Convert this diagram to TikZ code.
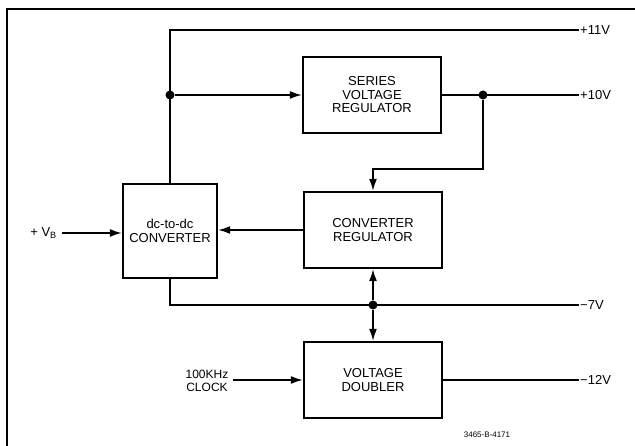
\documentclass[tikz,border=0pt]{standalone}
\usepackage{fontspec}
\setmainfont{Liberation Sans}
\usetikzlibrary{arrows.meta}
\begin{document}
\begin{tikzpicture}[x=1pt,y=-1pt,
  blk/.style={draw,line width=2.4pt,minimum width=138pt,minimum height=76pt,align=center,inner sep=0pt,font=\fontsize{13}{13.5}\selectfont},
  wire/.style={line width=1.5pt},
  arr/.style={wire,-{Latex[length=12pt,width=8pt]}},
  lbl/.style={font=\fontsize{13}{13.5}\selectfont,inner sep=1pt},
  jdot/.style={circle,fill,inner sep=0pt,minimum size=9pt}]
\useasboundingbox (0,0) rectangle (635,446);
% frame
\draw[line width=2.6pt] (7,446) -- (7,9) -- (635,9);
% blocks
\node[blk] (svr) at (372,95) {SERIES\\VOLTAGE\\REGULATOR};
\node[blk] (creg) at (373,230) {CONVERTER\\REGULATOR};
\node[blk] (vd) at (373,380) {VOLTAGE\\DOUBLER};
\node[blk,minimum width=94pt,minimum height=94pt] (dcdc) at (170,231) {dc-to-dc\\CONVERTER};
% coordinates
\coordinate (t11) at (170,30);
\coordinate (e11) at (579,30);
\node[jdot] (d1) at (170,95) {};
\coordinate (e10) at (579,95);
\node[jdot] (d2) at (483,95) {};
\coordinate (bend) at (483,169);
\coordinate (m7) at (170,305);
\node[jdot] (d3) at (373,305) {};
\coordinate (e7) at (579,305);
\coordinate (e12) at (579,380);
% labels
\node[lbl,anchor=west] (l11) at (e11) {+11V};
\node[lbl,anchor=west] (l10) at (e10) {+10V};
\node[lbl,anchor=west] (l7) at (e7) {−7V};
\node[lbl,anchor=west] (l12) at (e12) {−12V};
\node[lbl,anchor=east] (vb) at (58,233) {+ V\textsubscript{B}};
\node[lbl,align=center,font=\fontsize{12}{13}\selectfont] (clk) at (207,381) {100KHz\\CLOCK};
\node[lbl,font=\fontsize{8}{9}\selectfont] (ref) at (487,435) {3465-B-4171};
% wires
\draw[wire] (dcdc.north) -- (t11) -- (e11);
\draw[arr] (d1) -- (svr.west);
\draw[wire] (svr.east) -- (e10);
\draw[arr] (d2) -- (bend) -| (creg.north);
\draw[arr] (creg.west) -- (creg.west -| dcdc.east);
\draw[arr] (vb.east) ++(4,0) -- (vb.east -| dcdc.west);
\draw[wire] (dcdc.south) -- (m7) -- (e7);
\draw[arr] (d3) -- (creg.south);
\draw[arr] (d3) -- (vd.north);
\draw[arr] (clk.east |- vd.west) ++(3,0) -- (vd.west);
\draw[wire] (vd.east) -- (e12);
\end{tikzpicture}
\end{document}
